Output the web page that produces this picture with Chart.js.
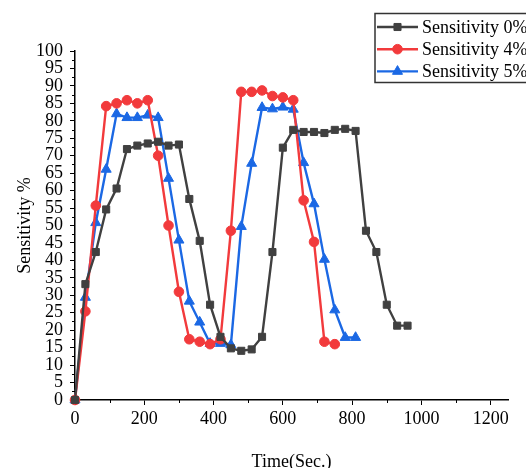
<!DOCTYPE html>
<html>
<head>
<meta charset="utf-8">
<script src="https://cdn.jsdelivr.net/npm/chart.js@4/dist/chart.umd.min.js"></script>
<style>
  html, body { margin: 0; padding: 0; background: #fff; }
  #wrap { width: 526px; height: 468px; position: relative; }
</style>
</head>
<body>
<div id="wrap"><canvas id="c" width="526" height="468"></canvas></div>
<script>
// ---- data ----
const timeSec = [0, 30, 60, 90, 120, 150, 180, 210, 240, 270, 300, 330, 360, 390, 420, 450,
  480, 510, 540, 570, 600, 630, 660, 690, 720, 750, 780, 810, 840, 870, 900, 930, 960];

const sens0 = [0, 33.2, 42.4, 54.6, 60.6, 71.9, 72.9, 73.5, 74.0, 72.9, 73.2, 57.6, 45.6, 27.3,
  18.1, 14.8, 14.1, 14.5, 18.1, 42.4, 72.3, 77.4, 76.8, 76.8, 76.5, 77.4, 77.7, 77.1, 48.5,
  42.4, 27.3, 21.3, 21.3];
const sens4 = [0, 25.4, 55.7, 84.2, 85.0, 85.9, 85.0, 85.9, 70.0, 50.0, 31.0, 17.4, 16.7, 16.0,
  17.4, 48.5, 88.3, 88.3, 88.7, 87.1, 86.7, 85.9, 57.2, 45.3, 16.7, 16.0];
const sens5 = [0, 29.4, 50.8, 66.1, 82.0, 80.9, 80.9, 81.6, 80.9, 63.5, 45.8, 28.3, 22.3, 16.2,
  16.2, 15.8, 49.7, 67.8, 83.8, 83.4, 83.9, 83.3, 68.0, 56.2, 40.3, 25.8, 17.9, 17.9];

const seriesNames = ['Sensitivity 0%', 'Sensitivity 4%', 'Sensitivity 5%'];
const xTickValues = [0, 200, 400, 600, 800, 1000, 1200];
const xMinorValues = [100, 300, 500, 700, 900, 1100];
const yTickValues = [0, 5, 10, 15, 20, 25, 30, 35, 40, 45, 50, 55, 60, 65, 70, 75, 80, 85, 90, 95, 100];
const yMinorValues = [2.5, 7.5, 12.5, 17.5, 22.5, 27.5, 32.5, 37.5, 42.5, 47.5, 52.5, 57.5,
  62.5, 67.5, 72.5, 77.5, 82.5, 87.5, 92.5, 97.5];

const toXY = vals => vals.map((v, i) => ({ x: timeSec[i], y: v }));
const FONT = 'Liberation Serif, "Times New Roman", serif';

const styles = [
  { color: '#404040', pointStyle: 'rect', radius: 5 },
  { color: '#f23a3c', pointStyle: 'circle', radius: 4.8 },
  { color: '#1b68e4', pointStyle: 'triangle', radius: 5.8 }
];
const values = [sens0, sens4, sens5];

const datasets = values.map((vals, i) => ({
  label: seriesNames[i],
  data: toXY(vals),
  borderColor: styles[i].color,
  backgroundColor: styles[i].color,
  pointBackgroundColor: styles[i].color,
  pointBorderColor: styles[i].color,
  pointStyle: styles[i].pointStyle,
  pointRadius: styles[i].radius,
  pointBorderWidth: 1,
  borderWidth: 2.4,
  tension: 0,
  clip: false
}));

const extras = {
  id: 'extras',
  afterDraw(chart) {
    const ctx = chart.ctx;
    const xs = chart.scales.x, ys = chart.scales.y;
    ctx.save();
    // minor ticks
    ctx.strokeStyle = '#000';
    ctx.lineWidth = 1;
    ctx.beginPath();
    yMinorValues.forEach(v => {
      const py = Math.round(ys.getPixelForValue(v)) + 0.5;
      ctx.moveTo(xs.left - 3, py); ctx.lineTo(xs.left, py);
    });
    xMinorValues.forEach(v => {
      const px = Math.round(xs.getPixelForValue(v)) + 0.5;
      ctx.moveTo(px, ys.bottom); ctx.lineTo(px, ys.bottom + 3);
    });
    ctx.stroke();

    // legend
    ctx.strokeStyle = '#333';
    ctx.lineWidth = 1.5;
    ctx.strokeRect(375, 13.5, 200, 69);
    chart.data.datasets.forEach((ds, i) => {
      const y = 27 + i * 22.2;
      ctx.strokeStyle = ds.borderColor;
      ctx.lineWidth = 2.4;
      ctx.beginPath(); ctx.moveTo(377, y); ctx.lineTo(418, y); ctx.stroke();
      ctx.fillStyle = ds.backgroundColor;
      ctx.lineWidth = 1;
      Chart.helpers.drawPoint(ctx, { pointStyle: ds.pointStyle, radius: ds.pointRadius, borderWidth: 1, rotation: 0 }, 397.5, y);
      ctx.fillStyle = '#000';
      ctx.font = '18px ' + FONT;
      ctx.textBaseline = 'middle';
      ctx.textAlign = 'left';
      ctx.fillText(ds.label, 422, y + 1);
    });
    ctx.restore();
  }
};

new Chart(document.getElementById('c'), {
  type: 'line',
  data: { datasets },
  options: {
    responsive: false,
    animation: false,
    layout: { padding: { top: 51, right: 18, left: 0, bottom: 0 } },
    plugins: { legend: { display: false }, tooltip: { enabled: false } },
    scales: {
      x: {
        type: 'linear',
        min: 0, max: 1250,
        afterBuildTicks: s => { s.ticks = xTickValues.map(v => ({ value: v })); },
        afterFit: s => { s.height = 68; },
        grid: { drawOnChartArea: false, drawTicks: true, tickLength: 5, color: '#000', lineWidth: 1 },
        border: { display: true, color: '#000', width: 1.5 },
        ticks: { color: '#000', font: { family: FONT, size: 18, lineHeight: 1 }, padding: 5, maxRotation: 0, callback: v => String(v) },
        title: { display: true, text: 'Time(Sec.)', color: '#000', font: { family: FONT, size: 18, lineHeight: 1 }, padding: { top: 0, bottom: -3 } }
      },
      y: {
        type: 'linear',
        min: 0, max: 100,
        afterBuildTicks: s => { s.ticks = yTickValues.map(v => ({ value: v })); },
        afterFit: s => { s.width = 75; },
        grid: { drawOnChartArea: false, drawTicks: true, tickLength: 5, color: '#000', lineWidth: 1 },
        border: { display: true, color: '#000', width: 1.5 },
        ticks: { color: '#000', font: { family: FONT, size: 18, lineHeight: 1 }, padding: 7, autoSkip: false, callback: v => String(v) },
        title: { display: true, text: 'Sensitivity %', color: '#000', font: { family: FONT, size: 18, lineHeight: 1 }, padding: { top: 16, bottom: 0 } }
      }
    }
  },
  plugins: [extras]
});
</script>
</body>
</html>
